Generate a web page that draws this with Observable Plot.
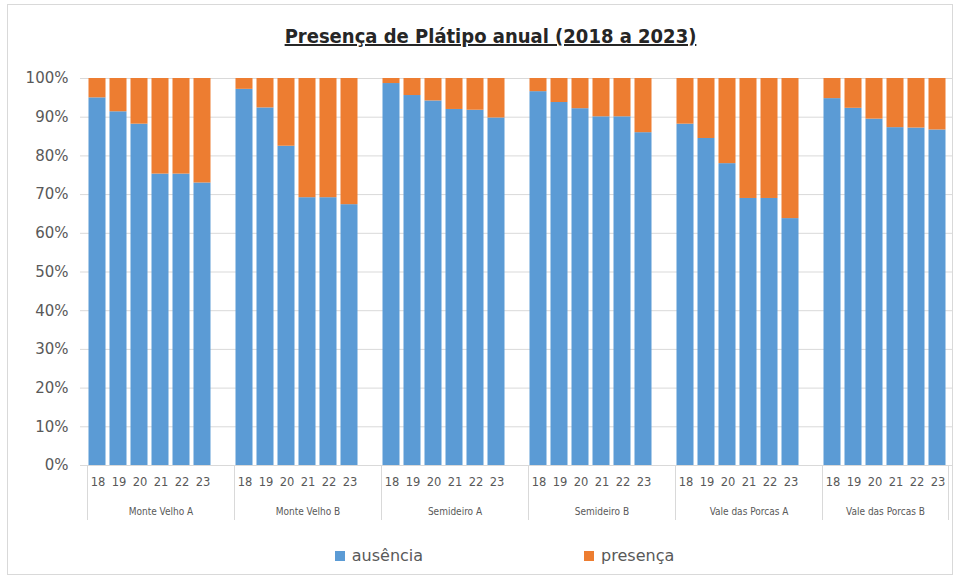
<!DOCTYPE html>
<html>
<head>
<meta charset="utf-8">
<script src="https://cdn.jsdelivr.net/npm/d3@7"></script>
<script src="https://cdn.jsdelivr.net/npm/@observablehq/plot@0.6"></script>
<style>
  body { margin: 0; background: #fff; }
  #wrap { position: relative; width: 961px; height: 581px; overflow: hidden; }
  #frame { position: absolute; left: 7px; top: 4px; width: 946px; height: 571px; border: 1px solid #d9d9d9; box-sizing: border-box; }
  #title { position: relative; height: 60px; text-align: center; font-family: "Liberation Sans Narrow", "DejaVu Sans Condensed", sans-serif; font-weight: bold; font-size: 20px; color: #262626; line-height: 60px; padding-top: 6px; padding-left: 20px; box-sizing: border-box; }
  #title span { text-decoration: underline; }
  #chart { position: relative; height: 470px; }
  #legend { position: relative; display: flex; justify-content: center; align-items: center; height: 51px; padding-left: 48px; box-sizing: border-box; font-family: "DejaVu Sans", sans-serif; font-size: 16px; color: #595959; }
  .item { display: flex; align-items: center; }
  .sw { width: 10px; height: 10px; margin-right: 7px; }
</style>
</head>
<body>
<div id="wrap">
  <div id="frame"></div>
  <div id="title"><span>Presença de Plátipo anual (2018 a 2023)</span></div>
  <div id="chart"></div>
  <div id="legend"></div>
</div>
<script>
const groups = ["Monte Velho A", "Monte Velho B", "Semideiro A", "Semideiro B", "Vale das Porcas A", "Vale das Porcas B"];
const years = ["18", "19", "20", "21", "22", "23"];
const seriesNames = ["ausência", "presença"];
const seriesColors = ["#5b9bd5", "#ed7d31"];

// percent "ausência" per group, years 2018..2023
const ausencia = [
  [95.0, 91.4, 88.2, 75.3, 75.3, 73.0],
  [97.2, 92.4, 82.5, 69.2, 69.2, 67.4],
  [98.7, 95.6, 94.2, 92.0, 91.8, 89.8],
  [96.6, 93.8, 92.2, 90.1, 90.1, 86.0],
  [88.2, 84.5, 78.0, 69.0, 69.0, 63.8],
  [94.8, 92.3, 89.5, 87.3, 87.2, 86.7]
];
// percent "presença" per group, years 2018..2023
const presenca = [
  [5.0, 8.6, 11.8, 24.7, 24.7, 27.0],
  [2.8, 7.6, 17.5, 30.8, 30.8, 32.6],
  [1.3, 4.4, 5.8, 8.0, 8.2, 10.2],
  [3.4, 6.2, 7.8, 9.9, 9.9, 14.0],
  [11.8, 15.5, 22.0, 31.0, 31.0, 36.2],
  [5.2, 7.7, 10.5, 12.7, 12.8, 13.3]
];
const yTicks = [0, 10, 20, 30, 40, 50, 60, 70, 80, 90, 100];

// each group occupies 6 bar slots + 1 empty slot (except the last)
const slotsPerGroup = years.length + 1;
const totalSlots = groups.length * slotsPerGroup - 1;

const rows = [];
groups.forEach((g, gi) => {
  years.forEach((yr, yi) => {
    const slot = gi * slotsPerGroup + yi;
    const a = ausencia[gi][yi], p = presenca[gi][yi];
    const tot = a + p;
    rows.push({group: g, year: yr, slot, series: seriesNames[0], y1: 0, y2: a / tot * 100});
    rows.push({group: g, year: yr, slot, series: seriesNames[1], y1: a / tot * 100, y2: 100});
  });
});
const yearLabels = rows.filter(d => d.series === seriesNames[0]);
const bounds = groups.map((g, gi) => gi * slotsPerGroup).concat([totalSlots]);
const groupLabels = groups.map((g, gi) => ({group: g, start: bounds[gi], end: Math.min(bounds[gi] + slotsPerGroup, totalSlots)}));

const gray = "#595959";
const grid = "#d9d9d9";

const chart = Plot.plot({
  width: 961,
  height: 470,
  marginTop: 18,
  marginBottom: 65,
  marginLeft: 87,
  marginRight: 13,
  style: {fontFamily: "DejaVu Sans, sans-serif", color: gray, background: "transparent", overflow: "visible"},
  x: {domain: [0, totalSlots], axis: null},
  y: {domain: [0, 100], ticks: yTicks, tickFormat: d => d + "%", tickSize: 0, tickPadding: 19, label: null, fontSize: 15},
  color: {domain: seriesNames, range: seriesColors},
  marks: [
    Plot.ruleY(yTicks, {stroke: grid, strokeWidth: 1, insetLeft: -7, insetRight: -4}),
    Plot.rect(rows, {x1: "slot", x2: d => d.slot + 1, y1: "y1", y2: "y2", fill: "series", insetLeft: 1.5, insetRight: 2.5}),
    Plot.ruleX(bounds, {x: d => d, y1: 0, y2: 0, insetBottom: -55, stroke: grid, strokeWidth: 1}),
    Plot.text(yearLabels, {x: d => d.slot + 0.5, y: 0, text: "year", dy: 17, fill: gray, fontSize: 11.5, fontFamily: "DejaVu Sans, sans-serif"}),
    Plot.text(groupLabels, {x: d => (d.start + d.end) / 2, y: 0, text: "group", dy: 46, fill: gray, fontSize: 10, fontFamily: "Liberation Sans Narrow, DejaVu Sans Condensed, sans-serif"})
  ]
});
chart.querySelectorAll("g[aria-label='y-axis tick label'] text, g[aria-label='y-axis'] text").forEach(t => t.setAttribute("font-size", 15));
const yax = chart.querySelector("g[aria-label='y-axis tick label']") || chart.querySelector("g[aria-label='y-axis']");
if (yax) { yax.setAttribute("font-size", 15); yax.setAttribute("fill", gray); }
document.getElementById("chart").appendChild(chart);

const legend = document.getElementById("legend");
seriesNames.forEach((s, i) => {
  const it = document.createElement("div");
  it.className = "item";
  if (i > 0) it.style.marginLeft = "161px";
  const sw = document.createElement("div");
  sw.className = "sw";
  sw.style.background = seriesColors[i];
  const tx = document.createElement("span");
  tx.textContent = s;
  it.appendChild(sw); it.appendChild(tx);
  legend.appendChild(it);
});
</script>
</body>
</html>
